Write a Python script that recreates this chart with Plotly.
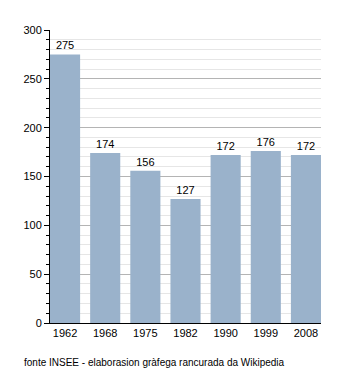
import plotly.graph_objects as go

years = ["1962", "1968", "1975", "1982", "1990", "1999", "2008"]
population = [275, 174, 156, 127, 172, 176, 172]

bar_color = "#9ab2cb"
font_family = "Liberation Sans, Arial, sans-serif"

fig = go.Figure()
fig.add_trace(go.Bar(
    x=years,
    y=population,
    marker=dict(color=bar_color, line=dict(width=0)),
    text=[str(v) for v in population],
    textposition="outside",
    textfont=dict(family=font_family, size=11, color="#000000"),
    cliponaxis=False,
    width=0.75,
))

fig.update_layout(
    width=350,
    height=373,
    margin=dict(l=50, r=29, t=30, b=50),
    paper_bgcolor="#ffffff",
    plot_bgcolor="#ffffff",
    showlegend=False,
    font=dict(family=font_family, size=11, color="#000000"),
    xaxis=dict(
        type="category",
        showline=True,
        linecolor="#000000",
        linewidth=1,
        ticks="",
        showgrid=False,
        tickfont=dict(size=11),
        range=[-0.375, 6.375],
    ),
    yaxis=dict(
        range=[0, 300],
        tick0=0,
        dtick=50,
        showline=True,
        linecolor="#000000",
        linewidth=1,
        ticks="outside",
        ticklen=5,
        tickcolor="#000000",
        showgrid=True,
        gridcolor="#b4b4b4",
        gridwidth=1,
        zeroline=False,
        tickfont=dict(size=11),
        minor=dict(
            dtick=10,
            ticks="outside",
            ticklen=3,
            tickcolor="#000000",
            showgrid=True,
            gridcolor="#e6e6e6",
            gridwidth=1,
        ),
    ),
    annotations=[dict(
        text="fonte INSEE - elaborasion gràfega rancurada da Wikipedia",
        xref="paper", yref="paper",
        x=-28 / 271, y=-39 / 293,
        xanchor="left", yanchor="middle",
        showarrow=False,
        font=dict(family=font_family, size=10, color="#000000"),
    )],
)

fig.write_html("out.html")
